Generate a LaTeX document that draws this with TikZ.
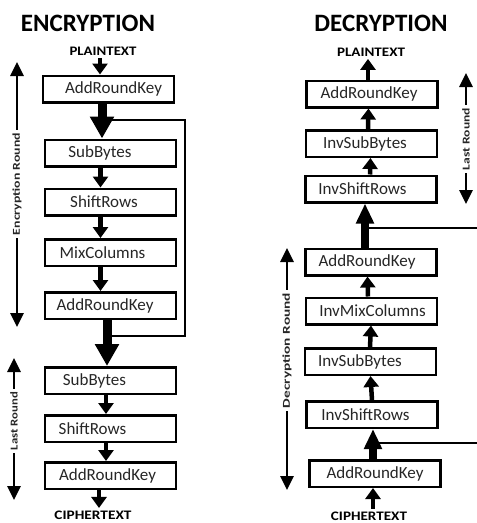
\documentclass[tikz,border=0pt]{standalone}
\usepackage{fontspec}
\setmainfont{Carlito}
\usetikzlibrary{arrows.meta}
\begin{document}
\begin{tikzpicture}[x=1pt,y=-1pt,
  box/.style={draw, line width=2.5pt, minimum width=131pt, minimum height=26.5pt, inner sep=0pt,
    text=black!85, font=\fontsize{17}{17}\selectfont},
  tx/.style={execute at begin node={\hspace*{#1}}},
  tarr/.style={line width=4.5pt, -{Triangle[width=15pt,length=11pt]}},
  karr/.style={line width=9pt, -{Triangle[width=23pt,length=22pt]}},
  darr/.style={line width=8pt, -{Triangle[width=17pt,length=20pt]}},
  loopline/.style={line width=2.5pt},
  larr/.style={line width=2.8pt, -{Triangle[width=13pt,length=14pt]}},
  lbl/.style={rotate=90, inner sep=3pt, text=black!85, font=\bfseries\fontsize{10.5}{10.5}\selectfont},
  io/.style={inner xsep=0pt, inner ysep=2.5pt, font=\bfseries\fontsize{13}{13}\selectfont},
  ttl/.style={inner sep=0pt, font=\bfseries\fontsize{25}{25}\selectfont}
]
\useasboundingbox (0,0) rectangle (477,523);

% ---------- ENCRYPTION ----------
\node[ttl] (te) at (88,23) {ENCRYPTION};
\node[io] (pe) at (103,51) {\resizebox{67pt}{\height}{PLAINTEXT}};
\node[box, tx=10pt]  (e1) at (108.5,89)   {AddRoundKey};
\node[box, tx=-21pt] (e2) at (110.5,153)  {SubBytes};
\node[box, tx=-13pt] (e3) at (110.5,202)  {ShiftRows};
\node[box, tx=-16pt] (e4) at (110.5,252.5){MixColumns};
\node[box, tx=-11pt] (e5) at (110.5,305.5){AddRoundKey};
\node[box, tx=-32pt] (e6) at (110.5,380.5){SubBytes};
\node[box, tx=-36pt] (e7) at (110.5,428.5){ShiftRows};
\node[box, tx=-6pt]  (e8) at (110.5,475.5){AddRoundKey};
\node[io] (ce) at (93,515) {\resizebox{77pt}{\height}{CIPHERTEXT}};

% loop
\coordinate (lj1) at (102,120);
\coordinate (lc1) at (185,120);
\coordinate (lc2) at (185,336);
\coordinate (lj2) at (107,336);
\draw[loopline] (lj1) -- (lc1) -- (lc2) -- (lj2);

\draw[tarr] ([xshift=-8.5pt]e1.north |- pe.south) -- ([xshift=-8.5pt]e1.north);
\draw[karr] ([xshift=-6.5pt]e1.south) -- ([xshift=-8.5pt]e2.north);
\draw[tarr] ([xshift=-10pt]e2.south) -- ([xshift=-10pt]e3.north);
\draw[tarr] ([xshift=-10pt]e3.south) -- ([xshift=-10pt]e4.north);
\draw[tarr] ([xshift=-10pt]e4.south) -- ([xshift=-10pt]e5.north);
\draw[karr] ([xshift=-3.5pt]e5.south) -- ([xshift=-3.5pt]e6.north);
\draw[tarr] ([xshift=-4.5pt]e6.south) -- ([xshift=-4.5pt]e7.north);
\draw[tarr] ([xshift=-4.5pt]e7.south) -- ([xshift=-4.5pt]e8.north);
\draw[tarr] ([xshift=-11.5pt]e8.south) -- ([xshift=-11.5pt]e8.south |- ce.north);

% side labels
\node[lbl] (le) at (17,184) {\resizebox{102pt}{\height}{Encryption Round}};
\coordinate (lt1) at (17,62);
\coordinate (lb1) at (17,327);
\draw[larr] (le.east) -- (lt1);
\draw[larr] (le.west) -- (lb1);

\node[lbl] (ll) at (14,421) {\resizebox{58pt}{\height}{Last Round}};
\coordinate (lt2) at (14,358);
\coordinate (lb2) at (14,500);
\draw[larr] (ll.east) -- (lt2);
\draw[larr] (ll.west) -- (lb2);

% ---------- DECRYPTION ----------
\node[ttl] (td) at (381,23) {DECRYPTION};
\node[io] (pd) at (371,52) {\resizebox{68pt}{\height}{PLAINTEXT}};
\node[box, tx=-6pt]  (d1) at (372,94)    {AddRoundKey};
\node[box, tx=-13pt] (d2) at (371.5,143.5){InvSubBytes};
\node[box, tx=-17pt] (d3) at (371,189)   {InvShiftRows};
\node[box, tx=-8pt]  (d4) at (371,262)   {AddRoundKey};
\node[box, tx=2pt]   (d5) at (371.5,311) {InvMixColumns};
\node[box, tx=-21pt] (d6) at (370.5,361.5){InvSubBytes};
\node[box, tx=-13pt] (d7) at (372,414.5) {InvShiftRows};
\node[box]           (d8) at (375,473.5) {AddRoundKey};
\node[io] (cd) at (369,516) {\resizebox{76pt}{\height}{CIPHERTEXT}};

% loops
\coordinate (dj1) at (365,228);
\coordinate (de1) at (477,228);
\coordinate (dj2) at (373,443);
\coordinate (de2) at (477,443);
\draw[loopline] (dj1) -- (de1);
\draw[loopline] (dj2) -- (de2);

\draw[tarr] ([xshift=-4pt]d1.north) -- ([xshift=-4pt]d1.north |- pd.south);
\draw[tarr] ([xshift=-3.5pt]d2.north) -- ([xshift=-3.5pt]d1.south);
\draw[tarr] ([xshift=-1pt]d3.north) -- ([xshift=-1pt]d2.south);
\draw[darr] ([xshift=-6pt]d4.north) -- ([xshift=-6pt]d3.south);
\draw[tarr] ([xshift=-3.5pt]d5.north) -- ([xshift=-3.5pt]d4.south);
\draw[tarr] ([xshift=-0.5pt]d6.north) -- ([xshift=-0.5pt]d5.south);
\draw[tarr] (d7.north) -- (d6.south);
\draw[darr] ([xshift=-2pt]d8.north) -- ([xshift=1pt]d7.south);
\draw[tarr] ([xshift=-2pt]d8.south |- cd.north) -- ([xshift=-2pt]d8.south);

% side labels
\node[lbl] (ld) at (287,350.5) {\resizebox{115pt}{\height}{Decryption Round}};
\coordinate (lt3) at (287,248);
\coordinate (lb3) at (287,490);
\draw[larr] (ld.east) -- (lt3);
\draw[larr] (ld.west) -- (lb3);

\node[lbl] (lr) at (466,139) {\resizebox{62pt}{\height}{Last Round}};
\coordinate (lt4) at (466,73);
\coordinate (lb4) at (466,204);
\draw[larr] (lr.east) -- (lt4);
\draw[larr] (lr.west) -- (lb4);
\end{tikzpicture}
\end{document}
